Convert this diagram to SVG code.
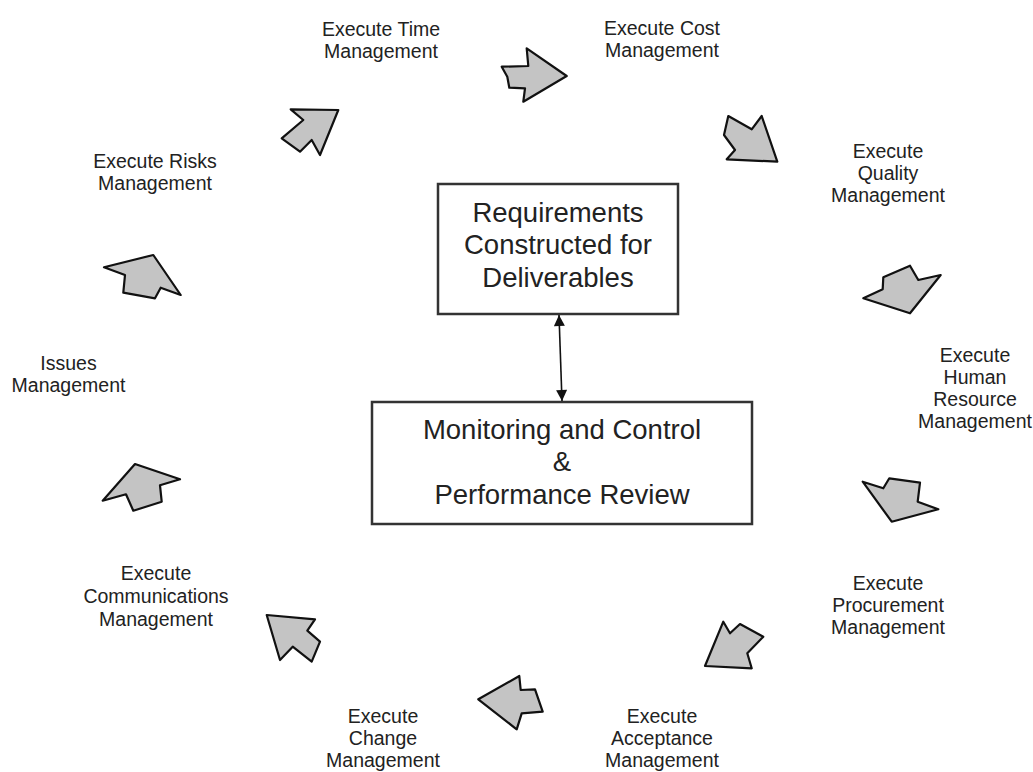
<svg xmlns="http://www.w3.org/2000/svg" width="1033" height="772" viewBox="0 0 1033 772">
<style>
.lbl{font-family:"Liberation Sans",Arial,sans-serif;font-size:19.5px;fill:#222;text-anchor:middle}
.big{font-family:"Liberation Sans",Arial,sans-serif;font-size:27.5px;fill:#222;text-anchor:middle}
.box{fill:#fff;stroke:#333;stroke-width:2.5}
.blk{fill:#c4c4c4;stroke:#111;stroke-width:2.2;stroke-linejoin:round}
.con{stroke:#111;stroke-width:1.6;fill:none}
</style>
<defs>
<marker id="ah" viewBox="0 0 10 10" refX="10" refY="5" markerWidth="12" markerHeight="11" markerUnits="userSpaceOnUse" orient="auto-start-reverse">
<path d="M0,0 L10,5 L0,10 Z" fill="#111"/>
</marker>
</defs>
<rect width="1033" height="772" fill="#fff"/>

<g id="requirements">
<rect class="box" x="438" y="184" width="240" height="130"/>
<text class="big" x="558" y="222">Requirements</text>
<text class="big" x="558" y="254">Constructed for</text>
<text class="big" x="558" y="287">Deliverables</text>
</g>

<g id="monitoring">
<rect class="box" x="372" y="402" width="380" height="122"/>
<text class="big" x="562" y="438.5">Monitoring and Control</text>
<text class="big" x="562" y="471">&amp;</text>
<text class="big" x="562" y="503.5">Performance Review</text>
</g>

<g id="time"><text class="lbl" x="381" y="36">Execute Time</text><text class="lbl" x="381" y="57.5">Management</text></g>
<g id="cost"><text class="lbl" x="662" y="35">Execute Cost</text><text class="lbl" x="662" y="57">Management</text></g>
<g id="quality"><text class="lbl" x="888" y="158">Execute</text><text class="lbl" x="888" y="180">Quality</text><text class="lbl" x="888" y="202">Management</text></g>
<g id="human-resource"><text class="lbl" x="975" y="362">Execute</text><text class="lbl" x="975" y="384">Human</text><text class="lbl" x="975" y="406">Resource</text><text class="lbl" x="975" y="428">Management</text></g>
<g id="procurement"><text class="lbl" x="888" y="590">Execute</text><text class="lbl" x="888" y="612">Procurement</text><text class="lbl" x="888" y="634">Management</text></g>
<g id="acceptance"><text class="lbl" x="662" y="723">Execute</text><text class="lbl" x="662" y="745">Acceptance</text><text class="lbl" x="662" y="767">Management</text></g>
<g id="change"><text class="lbl" x="383" y="723">Execute</text><text class="lbl" x="383" y="745">Change</text><text class="lbl" x="383" y="767">Management</text></g>
<g id="communications"><text class="lbl" x="156" y="580">Execute</text><text class="lbl" x="156" y="603">Communications</text><text class="lbl" x="156" y="626">Management</text></g>
<g id="issues"><text class="lbl" x="68.5" y="370">Issues</text><text class="lbl" x="68.5" y="392">Management</text></g>
<g id="risks"><text class="lbl" x="155" y="168">Execute Risks</text><text class="lbl" x="155" y="190">Management</text></g>

<g id="connectors">
<line class="con" x1="559" y1="315" x2="562" y2="401" marker-start="url(#ah)" marker-end="url(#ah)"/>
<polygon class="blk" points="290.7,109.3 338.3,110 320,155 311.7,140 300,151.7 281.7,138.3 303.3,120"/>
<polygon class="blk" points="501.7,66.7 528.3,66 526.7,48.3 566.7,76 523.3,101.7 525,88.3 509.3,87.7 507.3,76.7"/>
<polygon class="blk" points="728.3,116 751.7,129.3 761.7,116 777.3,161.7 726.7,159.3 735,150 724,135"/>
<polygon class="blk" points="863.3,298.3 882.7,289.3 883.3,277.3 910,265.7 918.3,280 940.7,275 910,313.3"/>
<polygon class="blk" points="862.7,481.7 883.3,488.3 889.3,478.3 920,482.7 917.7,501.7 938.3,509.3 891.7,521.7"/>
<polygon class="blk" points="723.3,621.7 730,633.3 740,624 763.3,636.7 747.3,653.3 751.7,668.3 705,666"/>
<polygon class="blk" points="478.3,699.3 519.3,676 520.7,690 535,689.3 542.7,711.7 521.7,713.3 516.7,729.3"/>
<polygon class="blk" points="266.7,615 315,619.3 307.3,630.7 320,641.7 311.7,661.7 292.7,646.7 280,660"/>
<polygon class="blk" points="102.7,500.7 135,464 180,479.3 160,485.3 161.7,501.7 133.3,510.7 126,494.3"/>
<polygon class="blk" points="104,267.3 153.3,255 180.7,295 160.7,287.7 155,298.3 123.3,292.7 125,275"/>
</g>
</svg>
